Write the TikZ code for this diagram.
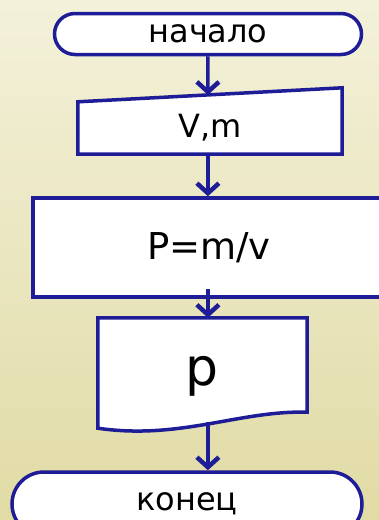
\documentclass[tikz,border=0pt]{standalone}
\usepackage{fontspec}
\setmainfont{DejaVu Sans}
\usetikzlibrary{arrows.meta,calc,shapes.misc,backgrounds}
\definecolor{flowblue}{RGB}{30,28,150}
\definecolor{bgtop}{RGB}{243,241,218}
\definecolor{bgbottom}{RGB}{225,219,165}
\tikzset{
  block/.style={draw=flowblue,line width=3.5pt,fill=white},
  term/.style={block,rounded rectangle,inner sep=0pt},
  flow/.style={draw=flowblue,line width=3.5pt,
    -{Straight Barb[length=10pt,width=22pt,line width=4.5pt]}},
  big/.style={font=\fontsize{#1}{#1}\selectfont}
}
\begin{document}
\begin{tikzpicture}[x=1pt,y=-1pt,big=32]
  \useasboundingbox (0,0) rectangle (379,520);
  \clip (0,0) rectangle (379,520);

  \node[term,minimum width=307pt,minimum height=41pt] (start) at (208,34) {начало};
  \node[minimum width=264pt,minimum height=52pt,inner sep=0pt] (inp) at (210,128) {V,m};
  \node[block,big=37,minimum width=352pt,minimum height=99pt] (proc) at (209,247.5) {P=m/v};
  \node[big=52,minimum width=209pt,minimum height=116pt,inner sep=0pt] (doc) at (202.5,376) {p};
  \node[term,minimum width=350pt,minimum height=64pt] (stop) at (187,504) {конец};

  \coordinate (inpne) at ($(inp.north east)+(0pt,14pt)$);
  \coordinate (inptop) at ($(inp.north west)!0.492!(inpne)$);

  % outlines behind the texts
  \begin{scope}[on background layer]
    \shade[top color=bgtop,bottom color=bgbottom] (0,0) rectangle (379,520);
    \draw[block] (inp.south west) -- (inp.south east) -- (inpne) -- (inp.north west) -- cycle;
    \draw[block] (doc.north west) -- (doc.north east) -- ($(doc.south east)+(0pt,22pt)$)
      .. controls ($(doc.south)+(37.5pt,24pt)$) and ($(doc.south)+(-22.5pt,-6pt)$) ..
      ($(doc.south west)+(0pt,6pt)$) -- cycle;
  \end{scope}

  \draw[flow] (start) -- (inptop);
  \draw[flow] (inptop |- inp.south) -- (inptop |- proc.north);
  \draw[flow,shorten <=-10pt] (inptop |- proc.south) -- (inptop |- doc.north);
  \draw[flow,shorten <=-12pt] (inptop |- doc.south) -- (inptop |- stop.north);
\end{tikzpicture}
\end{document}
